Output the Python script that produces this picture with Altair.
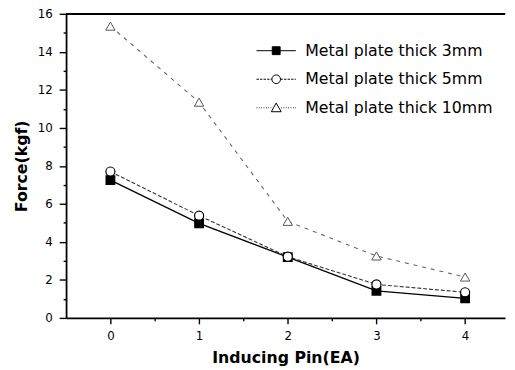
import altair as alt
import pandas as pd

pins = [0, 1, 2, 3, 4]
series_names = ["Metal plate thick 3mm", "Metal plate thick 5mm", "Metal plate thick 10mm"]
force_3mm = [7.25, 4.97, 3.2, 1.42, 1.03]
force_5mm = [7.7, 5.38, 3.22, 1.76, 1.35]
force_10mm = [15.35, 11.35, 5.08, 3.26, 2.15]
x_ticks = [0, 0.5, 1, 1.5, 2, 2.5, 3, 3.5, 4]
y_ticks = list(range(0, 17))
x_range = [-0.5, 4.45]
y_range = [0, 16]

rows = []
for name, vals in zip(series_names, [force_3mm, force_5mm, force_10mm]):
    for p, v in zip(pins, vals):
        rows.append({"pin": p, "force": v, "series": name})
df = pd.DataFrame(rows)


def dashes(x0, x1, dash, gap):
    out = []
    x = x0
    while x < x1:
        e = min(x + dash, x1)
        out.append("M%.3f,0H%.3f" % (x, e))
        x = e + gap
    return "".join(out)


legend_paths = [
    "M-1,0H1M-0.2,-0.2H0.2V0.2H-0.2Z",
    dashes(-1, -0.22, 0.12, 0.06) + dashes(0.22, 1, 0.12, 0.06)
    + "M-0.22,0A0.22,0.22 0 1,0 0.22,0A0.22,0.22 0 1,0 -0.22,0Z",
    dashes(-1, -0.25, 0.04, 0.08) + dashes(0.25, 1, 0.04, 0.08)
    + "M0,-0.24L0.25,0.2H-0.25Z",
]

xscale = alt.Scale(domain=x_range, nice=False, zero=False)
yscale = alt.Scale(domain=y_range, nice=False)

x_axis = alt.Axis(
    values=x_ticks,
    labelExpr="datum.value % 1 === 0 ? format(datum.value, 'd') : ''",
    tickSize={"condition": {"test": "datum.value % 1 === 0", "value": 6}, "value": 3},
    labelPadding=7, title="Inducing Pin(EA)", titlePadding=8,
)
y_axis = alt.Axis(
    values=y_ticks,
    labelExpr="datum.value % 2 === 0 ? datum.label : ''",
    tickSize={"condition": {"test": "datum.value % 2 === 0", "value": 7}, "value": 3},
    labelPadding=7, title="Force(kgf)", titlePadding=8,
)
X = alt.X("pin:Q", scale=xscale, axis=x_axis)
Y = alt.Y("force:Q", scale=yscale, axis=y_axis)

base = alt.Chart(df)

line_styles = [
    dict(color="#000000", strokeWidth=1.3),
    dict(color="#333333", strokeWidth=1.1, strokeDash=[4, 2]),
    dict(color="#666666", strokeWidth=1.1, strokeDash=[4, 5]),
]
point_styles = [
    dict(shape="square", filled=True, fill="black", stroke="black", size=64, opacity=1),
    dict(shape="circle", filled=True, fill="white", stroke="black", strokeWidth=1.2, size=85, opacity=1),
    dict(shape="triangle-up", filled=True, fill="white", stroke="#555555", strokeWidth=1, size=90, opacity=1),
]

layers = []
for name, ls in zip(series_names, line_styles):
    layers.append(base.transform_filter(alt.datum.series == name).mark_line(**ls).encode(x=X, y=Y))

leg_props = dict(
    orient="none", legendX=193, legendY=17, title=None, symbolSize=1600,
    symbolFillColor="white", symbolStrokeColor="black", symbolStrokeWidth=1, symbolOpacity=1,
    labelFont="DejaVu Sans", labelFontSize=16, labelColor="black", labelLimit=0,
    labelOffset=9, rowPadding=-11, padding=0,
)
legend_layer = base.mark_point(filled=True, size=0, strokeWidth=1).encode(
    x=X, y=Y,
    shape=alt.Shape("series:N", scale=alt.Scale(domain=series_names, range=legend_paths), legend=alt.Legend(**leg_props)),
    fill=alt.Fill("series:N", scale=alt.Scale(domain=series_names, range=["black", "white", "white"]), legend=alt.Legend(**leg_props)),
)
layers.append(legend_layer)

for name, ps in zip(series_names, point_styles):
    layers.append(base.transform_filter(alt.datum.series == name).mark_point(**ps).encode(x=X, y=Y))

top_border = base.mark_rule(color="black", strokeWidth=1.5).encode(
    y=alt.datum(y_range[1], scale=yscale, axis=y_axis),
)
layers.append(top_border)

chart = alt.layer(*layers).properties(
    width=446, height=309,
    autosize=alt.AutoSizeParams(type="none"),
    padding={"left": 59, "top": 3, "right": 2, "bottom": 48},
    background="white",
).configure_view(stroke=None).configure_axis(
    grid=False, domainColor="black", domainWidth=1.8, tickColor="black", tickWidth=1.4,
    labelFont="DejaVu Sans", labelFontSize=12, labelColor="black",
    titleFont="DejaVu Sans", titleFontSize=16, titleFontWeight="bold", titleColor="black",
)

chart.save("out.html", embed_options={"renderer": "svg", "actions": False})
